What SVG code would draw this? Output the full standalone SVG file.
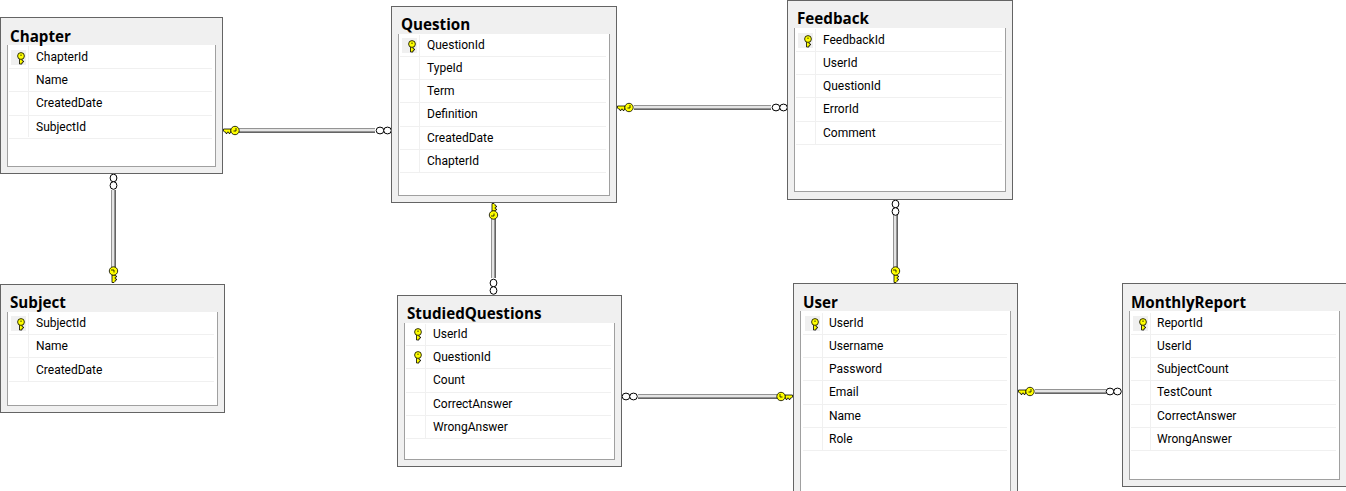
<svg xmlns="http://www.w3.org/2000/svg" xmlns:xlink="http://www.w3.org/1999/xlink" width="1346" height="491" viewBox="0 0 1346 491">
<style>
text{fill:#000}
.t{font-family:"Open Sans","Noto Sans","Liberation Sans",sans-serif;font-size:15.2px;font-weight:700}
.f{font-family:Roboto,"Liberation Sans",sans-serif;font-size:12px}
.o{fill:#f0f0f0;stroke:#646464;stroke-width:1}
.i{fill:#fff;stroke:#a0a0a0;stroke-width:1}
.w{fill:#fff}
.r{stroke:#f0f0f0;stroke-width:1;fill:none}
.c{fill:#f0f0f0}
.k{fill:#ffff00;stroke:#000;stroke-width:.8}
.n{fill:#fff;stroke:#000;stroke-width:1}
.a{fill:#e4e4e4}
.b{fill:#949494}
.d{fill:#646464}
</style>
<defs>
<g id="key"><path class="k" d="M-8-1.5H-0.5V0.5L-1.5 1.5H-2.5L-3 3H-4L-4.5 1.5H-5.5L-6 3H-7L-7.5 1.5H-8Z"/><circle class="k" cx="-12" cy="0" r="4.2"/><path d="M-13-2.5V0.5H-10.5" fill="none" stroke="#000" stroke-width=".8"/></g>
<g id="cellkey"><path class="k" d="M-7-1.5H0V1H-1.5L-2 2.5H-3L-3.5 1H-7Z"/><circle class="k" cx="-8" cy="0" r="3.4"/><path d="M-9.5 0H-8" stroke="#000" stroke-width=".8"/></g>
<g id="h"><ellipse class="n" cx="4" cy="0" rx="3.8" ry="3.4"/><ellipse class="n" cx="11.5" cy="0" rx="3.8" ry="3.4"/></g>
</defs>

<g id="connectors">
<g id="chapter-question"><rect class="b" x="239" y="128" width="136" height="5"/><rect class="a" x="239" y="129" width="136" height="2"/><rect class="d" x="239" y="132" width="136" height="1"/><use xlink:href="#key" transform="translate(223 130.5) scale(-1 1)"/><use xlink:href="#h" transform="translate(376 130.5)"/></g>
<g id="question-feedback"><rect class="b" x="634" y="105" width="137" height="5"/><rect class="a" x="634" y="106" width="137" height="2"/><rect class="d" x="634" y="109" width="137" height="1"/><use xlink:href="#key" transform="translate(617 107.5) scale(-1 1)"/><use xlink:href="#h" transform="translate(772 107.5)"/></g>
<g id="chapter-subject"><rect class="b" x="111" y="190" width="5" height="78"/><rect class="a" x="112" y="190" width="2" height="78"/><rect class="d" x="115" y="190" width="1" height="78"/><use xlink:href="#key" transform="matrix(0 1 1 0 113.5 283)"/><use xlink:href="#h" transform="translate(113.5 174) rotate(90)"/></g>
<g id="question-studied"><rect class="b" x="491" y="218" width="5" height="60"/><rect class="a" x="492" y="218" width="2" height="60"/><rect class="d" x="495" y="218" width="1" height="60"/><use xlink:href="#key" transform="translate(493.5 203) rotate(-90)"/><use xlink:href="#h" transform="translate(493.5 279) rotate(90)"/></g>
<g id="feedback-user"><rect class="b" x="893" y="215" width="5" height="53"/><rect class="a" x="894" y="215" width="2" height="53"/><rect class="d" x="897" y="215" width="1" height="53"/><use xlink:href="#key" transform="matrix(0 1 1 0 895.5 283)"/><use xlink:href="#h" transform="translate(895.5 200) rotate(90)"/></g>
<g id="studied-user"><rect class="b" x="638" y="394" width="140" height="5"/><rect class="a" x="638" y="395" width="140" height="2"/><rect class="d" x="638" y="398" width="140" height="1"/><use xlink:href="#key" transform="translate(793 396.5)"/><use xlink:href="#h" transform="translate(622 396.5)"/></g>
<g id="user-monthly"><rect class="b" x="1035" y="389" width="71" height="5"/><rect class="a" x="1035" y="390" width="71" height="2"/><rect class="d" x="1035" y="393" width="71" height="1"/><use xlink:href="#key" transform="translate(1018 391.5) scale(-1 1)"/><use xlink:href="#h" transform="translate(1106 391.5)"/></g>
</g>

<g id="chapter">
<rect class="o" x="0.5" y="17.5" width="222" height="156"/><rect class="i" x="7.5" y="45.5" width="208" height="121"/><rect class="w" x="8" y="45" width="207" height="1"/>
<path class="r" d="M9 68.5H212M9 91.5H212M9 115.5H212M9 138.5H212M28.5 46V137"/><rect class="c" x="11" y="50" width="15" height="15"/>
<use xlink:href="#cellkey" transform="matrix(0 1 1 0 21 64)"/>
<text class="t" x="10" y="42">Chapter</text>
<text class="f" x="36" y="61">ChapterId</text><text class="f" x="36" y="84">Name</text><text class="f" x="36" y="107">CreatedDate</text><text class="f" x="36" y="131">SubjectId</text>
</g>

<g id="question">
<rect class="o" x="391.5" y="6.5" width="225" height="196"/><rect class="i" x="398.5" y="34.5" width="211" height="161"/><rect class="w" x="399" y="34" width="210" height="1"/>
<path class="r" d="M400 56.5H606M400 79.5H606M400 102.5H606M400 126.5H606M400 149.5H606M400 172.5H606M419.5 35V172"/><rect class="c" x="402" y="38" width="15" height="15"/>
<use xlink:href="#cellkey" transform="matrix(0 1 1 0 412 52)"/>
<text class="t" x="401" y="30">Question</text>
<text class="f" x="427" y="49">QuestionId</text><text class="f" x="427" y="72">TypeId</text><text class="f" x="427" y="95">Term</text><text class="f" x="427" y="118">Definition</text><text class="f" x="427" y="142">CreatedDate</text><text class="f" x="427" y="165">ChapterId</text>
</g>

<g id="feedback">
<rect class="o" x="787.5" y="0.5" width="225" height="199"/><rect class="i" x="794.5" y="28.5" width="211" height="163"/><rect class="w" x="795" y="28" width="210" height="1"/>
<path class="r" d="M796 51.5H1002M796 74.5H1002M796 97.5H1002M796 121.5H1002M796 144.5H1002M815.5 29V144"/><rect class="c" x="798" y="33" width="15" height="15"/>
<use xlink:href="#cellkey" transform="matrix(0 1 1 0 808 47)"/>
<text class="t" x="797" y="24">Feedback</text>
<text class="f" x="823" y="44">FeedbackId</text><text class="f" x="823" y="67">UserId</text><text class="f" x="823" y="90">QuestionId</text><text class="f" x="823" y="113">ErrorId</text><text class="f" x="823" y="137">Comment</text>
</g>

<g id="subject">
<rect class="o" x="0.5" y="284.5" width="224" height="128"/><rect class="i" x="7.5" y="312.5" width="210" height="93"/><rect class="w" x="8" y="312" width="209" height="1"/>
<path class="r" d="M9 334.5H214M9 357.5H214M9 381.5H214M28.5 313V381"/><rect class="c" x="11" y="316" width="15" height="15"/>
<use xlink:href="#cellkey" transform="matrix(0 1 1 0 21 330)"/>
<text class="t" x="10" y="308">Subject</text>
<text class="f" x="36" y="327">SubjectId</text><text class="f" x="36" y="350">Name</text><text class="f" x="36" y="374">CreatedDate</text>
</g>

<g id="studiedquestions">
<rect class="o" x="397.5" y="295.5" width="224" height="171"/><rect class="i" x="404.5" y="323.5" width="210" height="136"/><rect class="w" x="405" y="323" width="209" height="1"/>
<path class="r" d="M406 345.5H611M406 368.5H611M406 392.5H611M406 415.5H611M406 438.5H611M425.5 324V438"/>
<use xlink:href="#cellkey" transform="matrix(0 1 1 0 418 340)"/><use xlink:href="#cellkey" transform="matrix(0 1 1 0 418 363)"/>
<text class="t" x="407" y="319">StudiedQuestions</text>
<text class="f" x="433" y="338">UserId</text><text class="f" x="433" y="361">QuestionId</text><text class="f" x="433" y="384">Count</text><text class="f" x="433" y="408">CorrectAnswer</text><text class="f" x="433" y="431">WrongAnswer</text>
</g>

<g id="user">
<rect class="o" x="793.5" y="283.5" width="224" height="211"/><rect class="i" x="800.5" y="311.5" width="210" height="183"/><rect class="w" x="801" y="311" width="209" height="1"/>
<path class="r" d="M803 334.5H1007M803 357.5H1007M803 380.5H1007M803 404.5H1007M803 427.5H1007M803 450.5H1007M822.5 313V450"/><rect class="c" x="805" y="316" width="15" height="15"/>
<use xlink:href="#cellkey" transform="matrix(0 1 1 0 815 330)"/>
<text class="t" x="803" y="308">User</text>
<text class="f" x="829" y="327">UserId</text><text class="f" x="829" y="350">Username</text><text class="f" x="829" y="373">Password</text><text class="f" x="829" y="396">Email</text><text class="f" x="829" y="420">Name</text><text class="f" x="829" y="443">Role</text>
</g>

<g id="monthlyreport">
<rect class="o" x="1122.5" y="283.5" width="224" height="203"/><rect class="i" x="1129.5" y="311.5" width="210" height="168"/><rect class="w" x="1130" y="311" width="209" height="1"/>
<path class="r" d="M1131 334.5H1336M1131 357.5H1336M1131 380.5H1336M1131 404.5H1336M1131 427.5H1336M1131 450.5H1336M1150.5 313V450"/><rect class="c" x="1133" y="316" width="15" height="15"/>
<use xlink:href="#cellkey" transform="matrix(0 1 1 0 1143 330)"/>
<text class="t" x="1131" y="308">MonthlyReport</text>
<text class="f" x="1157" y="327">ReportId</text><text class="f" x="1157" y="350">UserId</text><text class="f" x="1157" y="373">SubjectCount</text><text class="f" x="1157" y="396">TestCount</text><text class="f" x="1157" y="420">CorrectAnswer</text><text class="f" x="1157" y="443">WrongAnswer</text>
</g>
</svg>
